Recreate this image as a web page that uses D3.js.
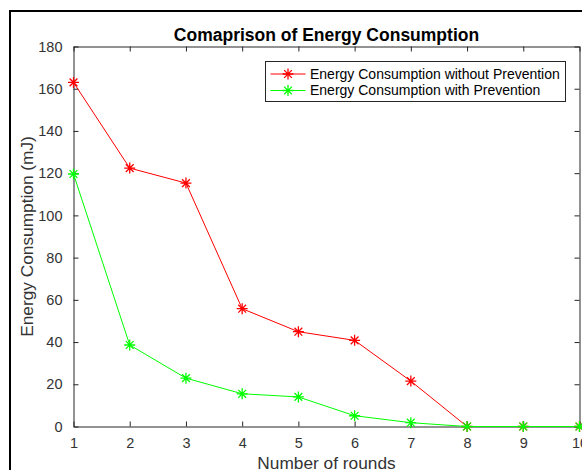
<!DOCTYPE html>
<html>
<head>
<meta charset="utf-8">
<script src="https://cdn.jsdelivr.net/npm/d3@7"></script>
<style>
  body { margin: 0; background: #fff; }
  text { font-family: "Liberation Sans", Arial, Helvetica, sans-serif; }
</style>
</head>
<body>
<svg id="chart"></svg>
<script>
// ---------------- data ----------------
var rounds = [1, 2, 3, 4, 5, 6, 7, 8, 9, 10];
var withoutPrevention = [163, 122.4, 115.3, 55.8, 44.9, 40.8, 21.5, 0, 0, 0];
var withPrevention = [119.6, 38.6, 22.9, 15.5, 14, 5.1, 1.8, 0, 0, 0];
var yTicks = [0, 20, 40, 60, 80, 100, 120, 140, 160, 180];
var seriesNames = ['Energy Consumption without Prevention', 'Energy Consumption with Prevention'];
var seriesColors = ['#ff0000', '#00ff00'];

// ---------------- layout ----------------
var width = 582, height = 470;
var plot = { left: 73.5, right: 579.5, top: 46.5, bottom: 426.5 };
var axisColor = '#262626';
var labelColor = '#333333';

var svg = d3.select('#chart')
  .attr('width', width)
  .attr('height', height);

// outer figure frame (cut off at right/bottom)
svg.append('rect')
  .attr('x', 10).attr('y', 11)
  .attr('width', 600).attr('height', 500)
  .attr('fill', 'white')
  .attr('stroke', 'black')
  .attr('stroke-width', 2);

var xScale = d3.scaleLinear().domain([1, 10]).range([plot.left, plot.right]);
var yScale = d3.scaleLinear().domain([0, 180]).range([plot.bottom, plot.top]);

// axes (box with inner ticks, like matlab)
svg.append('g')
  .attr('transform', `translate(0, ${plot.bottom})`)
  .call(d3.axisBottom(xScale).tickValues(rounds).tickSize(-5).tickPadding(11).tickSizeOuter(0))
  .call(g => g.select('.domain').attr('stroke', axisColor));

svg.append('g')
  .attr('transform', `translate(0, ${plot.top})`)
  .call(d3.axisTop(xScale).tickValues(rounds).tickSize(-5).tickFormat('').tickSizeOuter(0))
  .call(g => g.select('.domain').attr('stroke', axisColor));

svg.append('g')
  .attr('transform', `translate(${plot.left}, 0)`)
  .call(d3.axisLeft(yScale).tickValues(yTicks).tickSize(-5).tickPadding(11).tickSizeOuter(0))
  .call(g => g.select('.domain').attr('stroke', axisColor));

svg.append('g')
  .attr('transform', `translate(${plot.right}, 0)`)
  .call(d3.axisRight(yScale).tickValues(yTicks).tickSize(-5).tickFormat('').tickSizeOuter(0))
  .call(g => g.select('.domain').attr('stroke', axisColor));

svg.selectAll('.tick line').attr('stroke', axisColor);
svg.selectAll('.tick text')
  .attr('fill', labelColor)
  .style('font-size', '14.5px')
  .style('font-family', '"Liberation Sans", Arial, sans-serif');

// axis labels and title
svg.append('text')
  .text('Comaprison of Energy Consumption')
  .attr('x', (plot.left + plot.right) / 2)
  .attr('y', 40.5)
  .attr('text-anchor', 'middle')
  .attr('font-weight', 'bold')
  .attr('font-size', '17.5px')
  .attr('fill', 'black');

svg.append('text')
  .text('Energy Consumption (mJ)')
  .attr('transform', 'rotate(-90)')
  .attr('x', -(plot.top + plot.bottom) / 2)
  .attr('y', 33)
  .attr('text-anchor', 'middle')
  .attr('font-size', '17.3px')
  .attr('fill', labelColor);

svg.append('text')
  .text('Number of rounds')
  .attr('x', (plot.left + plot.right) / 2)
  .attr('y', 469)
  .attr('text-anchor', 'middle')
  .attr('font-size', '17.3px')
  .attr('fill', labelColor);

// asterisk marker path
function star(r) {
  var d = r * Math.SQRT1_2;
  return `M${-r},0L${r},0M0,${-r}L0,${r}M${-d},${-d}L${d},${d}M${-d},${d}L${d},${-d}`;
}

var line = d3.line()
  .x((d, i) => xScale(rounds[i]))
  .y(d => yScale(d));

[withoutPrevention, withPrevention].forEach(function(values, s) {
  svg.append('path')
    .datum(values)
    .attr('d', line)
    .attr('fill', 'none')
    .attr('stroke', seriesColors[s])
    .attr('stroke-width', 1);

  svg.selectAll('.m' + s)
    .data(values)
    .enter()
    .append('path')
      .attr('class', 'm' + s)
      .attr('d', star(5.5))
      .attr('transform', (d, i) => `translate(${xScale(rounds[i])}, ${yScale(d)})`)
      .attr('stroke', seriesColors[s])
      .attr('stroke-width', 1.3)
      .attr('fill', 'none');
});

// legend
var legend = svg.append('g').attr('transform', 'translate(265.5, 61.5)');
legend.append('rect')
  .attr('width', 300).attr('height', 40)
  .attr('fill', 'white')
  .attr('stroke', axisColor)
  .attr('stroke-width', 1);

seriesNames.forEach(function(name, s) {
  var row = legend.append('g').attr('transform', `translate(0, ${12.5 + s * 16.5})`);
  row.append('line')
    .attr('x1', 5).attr('x2', 40)
    .attr('stroke', seriesColors[s]).attr('stroke-width', 1);
  row.append('path')
    .attr('d', star(5.5))
    .attr('transform', 'translate(22.5, 0)')
    .attr('stroke', seriesColors[s]).attr('stroke-width', 1.3)
    .attr('fill', 'none');
  row.append('text')
    .text(name)
    .attr('x', 44.5)
    .attr('dy', '0.35em')
    .attr('font-size', '14px')
    .attr('fill', 'black');
});
</script>
</body>
</html>
